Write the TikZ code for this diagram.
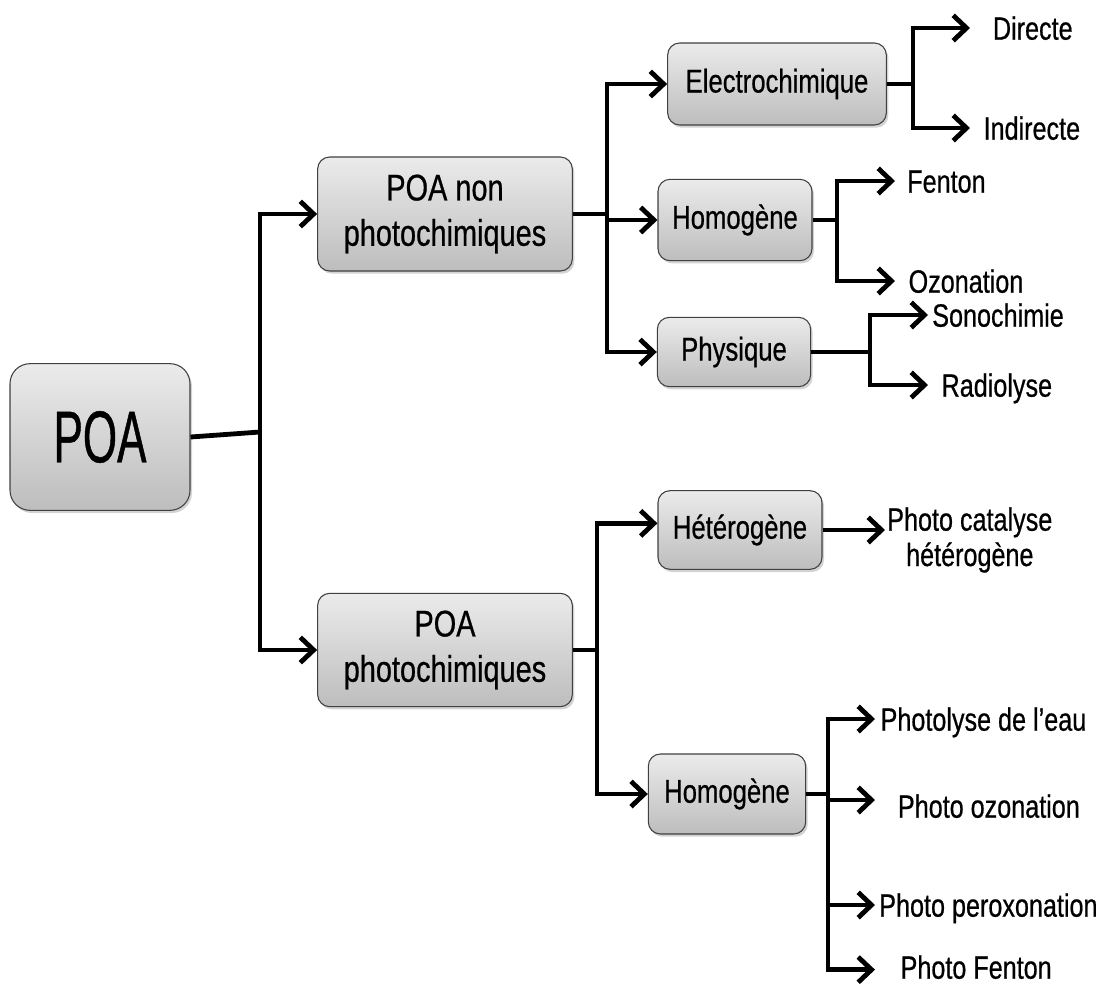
\documentclass[tikz,border=0pt]{standalone}
\usepackage{fontspec}
\setmainfont{Liberation Sans}[FakeStretch=0.78,FakeBold=0.6]
\newfontfamily\bigfont{Liberation Sans}[FakeStretch=0.6,FakeBold=0.6]
\usetikzlibrary{arrows.meta,shadows}
\definecolor{boxtop}{HTML}{EBEBEB}
\definecolor{boxbot}{HTML}{BDBDBD}
\begin{document}
\begin{tikzpicture}[x=0.75pt,y=-0.75pt,
  box/.style={draw=black!75, line width=0.8pt, rounded corners=9pt,
    top color=boxtop, bottom color=boxbot,
    drop shadow={shadow xshift=1.5pt,shadow yshift=-2pt,opacity=0.35},
    align=center, inner sep=0pt, font=\fontsize{24.7}{34}\selectfont},
  bigbox/.style={box, font=\fontsize{27.8}{34}\selectfont},
  leaf/.style={anchor=west, inner ysep=0pt, text height=17.5pt, text depth=0pt,
    font=\fontsize{24.2}{34}\selectfont},
  conn/.style={line width=3.6pt},
  arr/.style={conn, -{Straight Barb[length=10pt,width=19pt]}}]
\useasboundingbox (0,0) rectangle (1118,990);

% boxes
\node[box, minimum width=135pt, minimum height=110pt, rounded corners=15pt,
  font=\bigfont\fontsize{55}{60}\selectfont] (poa) at (100,437) {POA};
\node[bigbox, minimum width=191pt, minimum height=85.5pt] (nph) at (445,214) {POA non\\photochimiques};
\node[box, minimum width=164pt, minimum height=61.5pt] (ele) at (777,84) {Electrochimique};
\node[box, minimum width=115.5pt, minimum height=61pt] (ho1) at (735,220) {Homogène};
\node[box, minimum width=115pt, minimum height=52pt] (phy) at (734,352) {Physique};
\node[box, minimum width=123pt, minimum height=59pt] (het) at (740,530) {Hétérogène};
\node[bigbox, minimum width=191pt, minimum height=85pt] (pho) at (445,650) {POA\\photochimiques};
\node[box, minimum width=118pt, minimum height=60pt] (ho2) at (727,794) {Homogène};

% leaves
\node[leaf, inner xsep=17pt] (dir) at (970,28) {Directe};
\node[leaf, inner xsep=10pt] (ind) at (970,128) {Indirecte};
\node[leaf, inner xsep=9pt] (fen) at (895,181) {Fenton};
\node[leaf, inner xsep=10pt] (ozo) at (895,281) {Ozonation};
\node[leaf, inner xsep=3pt] (son) at (928,315) {Sonochimie};
\node[leaf, inner xsep=10pt] (rad) at (928,385) {Radiolyse};
\node[anchor=west, align=center, inner xsep=1.5pt, inner ysep=0pt,
  font=\fontsize{24.2}{26.5}\selectfont] (cat) at (885,540) {Photo catalyse\\hétérogène};
\node[leaf, inner xsep=4pt] (pl) at (875,719) {Photolyse de l’eau};
\node[leaf, inner xsep=17pt] (poz) at (875,806) {Photo ozonation};
\node[leaf, inner xsep=3pt] (ppx) at (875,905) {Photo peroxonation};
\node[leaf, inner xsep=19pt] (pfe) at (875,967) {Photo Fenton};

% junctions
\coordinate (j1) at (260,432);
\coordinate (j2) at (607,214);
\coordinate (j3) at (913,84);
\coordinate (j4) at (837,220);
\coordinate (j5) at (870,352);
\coordinate (j6) at (597,650);
\coordinate (j7) at (828,794);

% connectors
\draw[conn] (poa.east) -- (j1);
\draw[arr] (j1) |- (nph.west);
\draw[arr] (j1) |- (pho.west);

\draw[conn] (nph.east) -- (j2);
\draw[arr] (j2) |- (ele.west);
\draw[arr] (j2) |- (ho1.west);
\draw[arr] (j2) |- (phy.west);

\draw[conn] (ele.east) -- (j3);
\draw[arr] (j3) |- (dir.west);
\draw[arr] (j3) |- (ind.west);

\draw[conn] (ho1.east) -- (j4);
\draw[arr] (j4) |- (fen.west);
\draw[arr] (j4) |- (ozo.west);

\draw[conn] (phy.east) -- (j5);
\draw[arr] (j5) |- (son.west);
\draw[arr] (j5) |- (rad.west);

\draw[arr] (het.east) -- (het.east -| cat.west);

\draw[conn] (pho.east) -- (j6);
\draw[arr] (j6) |- ([yshift=5pt]het.west);
\draw[arr] (j6) |- (ho2.west);

\draw[conn] (ho2.east) -- (j7);
\draw[arr] (j7) |- (pl.west);
\draw[arr] (j7) |- ([yshift=4.5pt]poz.west);
\draw[arr] (j7) |- (ppx.west);
\draw[arr] (j7) |- ([yshift=-2pt]pfe.west);
\end{tikzpicture}
\end{document}
